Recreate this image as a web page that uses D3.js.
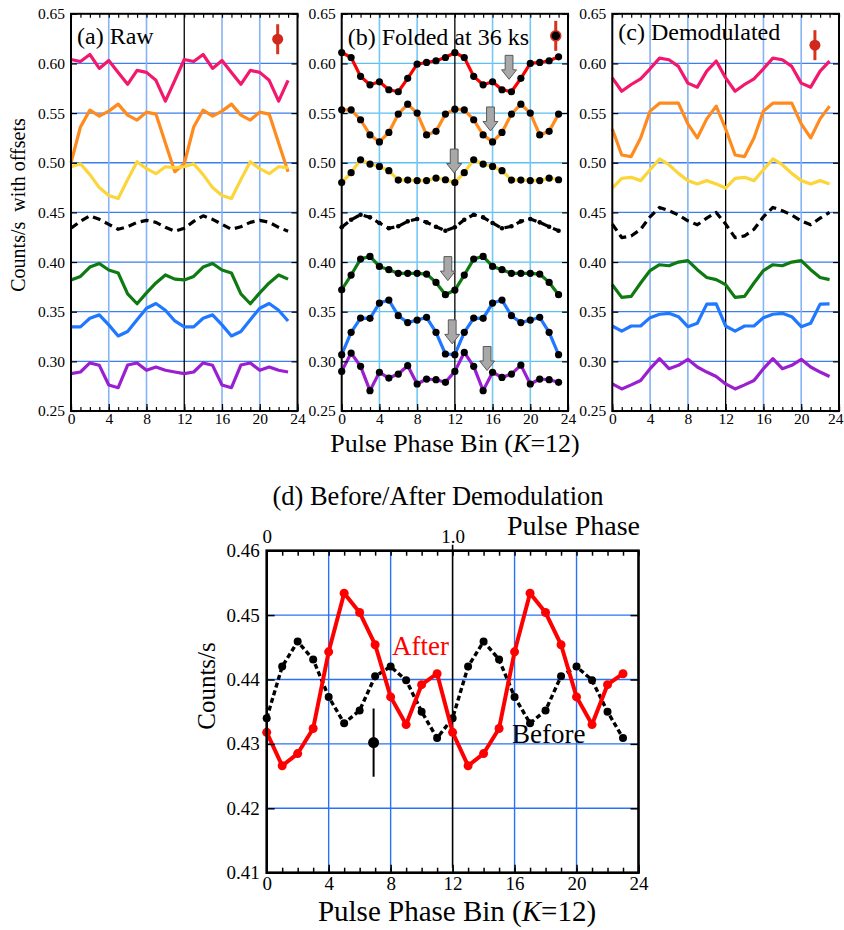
<!DOCTYPE html>
<html><head><meta charset="utf-8">
<script src="https://cdn.jsdelivr.net/npm/d3@7"></script>
<style>body{margin:0;background:#fff} svg{display:block} text{font-family:"Liberation Serif","Times New Roman",serif;fill:#000}</style>
</head><body><svg id="c" width="844" height="930"></svg>
<script>
// ---------------- data ----------------
const bins = d3.range(24);
const xTickVals = [0, 4, 8, 12, 16, 20, 24];
const yTickTop = [0.25, 0.30, 0.35, 0.40, 0.45, 0.50, 0.55, 0.60, 0.65];
const yTickD = [0.41, 0.42, 0.43, 0.44, 0.45, 0.46];
const phaseTickBins = [0, 12];
const phaseTickLabels = ["0", "1.0"];

// (a) Raw
const aPink   = [0.604,0.602,0.609,0.595,0.603,0.591,0.579,0.593,0.591,0.583,0.562,0.583, 0.604,0.602,0.609,0.595,0.603,0.591,0.579,0.593,0.591,0.583,0.562,0.583];
const aOrange = [0.500,0.536,0.553,0.547,0.552,0.559,0.548,0.543,0.551,0.549,0.520,0.491, 0.499,0.536,0.553,0.547,0.552,0.559,0.548,0.543,0.551,0.549,0.520,0.491];
const aYellow = [0.496,0.499,0.488,0.475,0.467,0.464,0.483,0.501,0.494,0.489,0.496,0.495, 0.496,0.499,0.488,0.475,0.467,0.464,0.483,0.501,0.494,0.489,0.496,0.495];
const aBlack  = [0.434,0.441,0.4466,0.443,0.438,0.433,0.4355,0.440,0.442,0.440,0.435,0.431, 0.434,0.441,0.4466,0.443,0.438,0.433,0.4355,0.440,0.442,0.440,0.435,0.431];
const aGreen  = [0.382,0.3855,0.395,0.3986,0.392,0.389,0.368,0.358,0.369,0.379,0.387,0.3828, 0.382,0.3855,0.395,0.3986,0.392,0.389,0.368,0.358,0.369,0.379,0.387,0.3828];
const aBlue   = [0.3347,0.3347,0.3434,0.3468,0.3367,0.3256,0.330,0.342,0.3535,0.3582,0.3515,0.3407, 0.3347,0.3347,0.3434,0.3468,0.3367,0.3256,0.330,0.342,0.3535,0.3582,0.3515,0.3407];
const aPurple = [0.2876,0.2893,0.2984,0.296,0.2762,0.2735,0.2963,0.2984,0.291,0.2943,0.291,0.2893, 0.2876,0.2893,0.2984,0.296,0.2762,0.2735,0.2963,0.2984,0.291,0.2943,0.291,0.2893];

// (b) Folded at 36 ks
const bRed    = [0.611,0.606,0.587,0.5785,0.5815,0.5735,0.5715,0.585,0.5993,0.601,0.6027,0.606, 0.611,0.606,0.587,0.5785,0.5815,0.5735,0.5715,0.585,0.600,0.601,0.6027,0.6067];
const bOrange = [0.5533,0.5533,0.5433,0.528,0.521,0.5305,0.549,0.559,0.550,0.528,0.5316,0.549, 0.554,0.5533,0.5433,0.528,0.521,0.5305,0.549,0.559,0.550,0.528,0.5316,0.549];
const bYellow = [0.480,0.490,0.503,0.4987,0.4963,0.492,0.4826,0.4826,0.482,0.482,0.4846,0.4829, 0.480,0.490,0.503,0.4987,0.4963,0.492,0.4826,0.4826,0.482,0.482,0.4846,0.4829];
const bBlack  = [0.435,0.4426,0.4477,0.445,0.4393,0.434,0.436,0.441,0.4433,0.440,0.4356,0.4315, 0.435,0.4426,0.4477,0.445,0.4393,0.434,0.436,0.441,0.4433,0.440,0.4356,0.4315];
const bGreen  = [0.3721,0.3869,0.403,0.4057,0.3956,0.3923,0.3886,0.3886,0.3886,0.3879,0.3795,0.3671, 0.3718,0.3869,0.403,0.4057,0.3956,0.3923,0.3886,0.3886,0.3886,0.3879,0.3795,0.3671];
const bBlue   = [0.3067,0.3292,0.3436,0.3433,0.3587,0.3617,0.346,0.339,0.3416,0.3443,0.3292,0.3074, 0.3067,0.3292,0.3436,0.3433,0.3587,0.3617,0.346,0.339,0.3416,0.3443,0.3292,0.3067];
const bPurple = [0.2899,0.3084,0.295,0.2705,0.289,0.2832,0.2872,0.2956,0.2772,0.2822,0.2815,0.2789, 0.2899,0.309,0.295,0.2705,0.289,0.2838,0.2872,0.2962,0.2772,0.2822,0.2815,0.2789];
// arrows in (b): bin position and value of arrow tip
const arrowBins = [17.75, 15.78, 11.93, 11.26, 11.72, 15.42];
const arrowVals = [0.584, 0.532, 0.4896, 0.3813, 0.3176, 0.2908];

// (c) Demodulated
const cPink   = [0.5855,0.572,0.5788,0.5845,0.5946,0.6054,0.6037,0.597,0.5802,0.5761,0.5923,0.6024, 0.5855,0.572,0.5788,0.5845,0.5946,0.6054,0.6037,0.597,0.5802,0.5761,0.5923,0.6024];
const cOrange = [0.534,0.5078,0.5062,0.525,0.552,0.560,0.560,0.560,0.5391,0.525,0.5442,0.557, 0.534,0.5078,0.5062,0.525,0.552,0.560,0.560,0.560,0.5391,0.525,0.5442,0.557];
const cYellow = [0.4745,0.4843,0.4853,0.482,0.493,0.5038,0.498,0.4893,0.482,0.4786,0.482,0.4786, 0.4745,0.4843,0.4853,0.482,0.493,0.5038,0.498,0.4893,0.482,0.4786,0.482,0.4786];
const cBlack  = [0.4382,0.4246,0.4263,0.433,0.4456,0.455,0.4517,0.4473,0.4415,0.4375,0.4442,0.450, 0.4382,0.4246,0.4263,0.433,0.4456,0.455,0.4517,0.4473,0.4415,0.4375,0.4442,0.450];
const cGreen  = [0.3772,0.3644,0.3654,0.3789,0.3914,0.3973,0.3963,0.400,0.4014,0.3923,0.3845,0.3823, 0.3772,0.3644,0.3654,0.3789,0.3914,0.3973,0.3963,0.400,0.4014,0.3923,0.3845,0.3823];
const cBlue   = [0.3356,0.3305,0.3356,0.3356,0.344,0.3474,0.3484,0.345,0.3349,0.3383,0.3576,0.3579, 0.3356,0.3305,0.3356,0.3356,0.344,0.3474,0.3484,0.345,0.3349,0.3383,0.3576,0.3579];
const cPurple = [0.2773,0.2722,0.2763,0.2807,0.2926,0.3027,0.2926,0.296,0.302,0.2943,0.2892,0.2848, 0.2773,0.2722,0.2763,0.2807,0.2926,0.3027,0.2926,0.296,0.302,0.2943,0.2892,0.2848];

// (d) Before / After demodulation
const dBefore = [0.434,0.442,0.4459,0.4431,0.4373,0.4332,0.4352,0.4405,0.442,0.4399,0.435,0.4309, 0.434,0.442,0.4459,0.4431,0.4373,0.4332,0.4352,0.4405,0.442,0.4399,0.435,0.4309];
const dAfter  = [0.4318,0.4266,0.4285,0.4324,0.4443,0.4534,0.4504,0.4454,0.4373,0.433,0.4392,0.4409, 0.4318,0.4266,0.4285,0.4324,0.4443,0.4534,0.4504,0.4454,0.4373,0.433,0.4392,0.4409];

// typical error bars: bin, value, half-error
const errBins = [21.9, 22.7, 21.45, 6.9];
const errVals = [0.6244, 0.6278, 0.6184, 0.4302];
const errHalf = [0.0151, 0.0151, 0.0151, 0.0053];

// ---------------- drawing ----------------
const svg = d3.select("#c");
const SERIF = '"Liberation Serif","Times New Roman",serif';
const colOrange = "#ff8a1e", colYellow = "#fcd53a", colGreen = "#0f7a12", colBlue = "#1f78ff", colPurple = "#9a1fd0";

function drawTop(x0, x1, series, o) {
  const x = d3.scaleLinear().domain([0, 24]).range([x0, x1]);
  const y = d3.scaleLinear().domain([0.25, 0.65]).range([411, 13.8]);
  const g = svg.append("g");
  // grid
  g.selectAll(null).data(yTickTop.slice(1, -1)).join("line")
    .attr("x1", x(0)).attr("x2", x(24)).attr("y1", d => y(d)).attr("y2", d => y(d))
    .attr("stroke", o.hGrid).attr("stroke-width", 1.3);
  g.selectAll(null).data(xTickVals.filter(v => v % 12 !== 0)).join("line")
    .attr("x1", d => x(d)).attr("x2", d => x(d)).attr("y1", y(0.25)).attr("y2", y(0.65))
    .attr("stroke", o.vGrid).attr("stroke-width", 1.6);
  g.append("line").attr("x1", x(12)).attr("x2", x(12)).attr("y1", y(0.25)).attr("y2", y(0.65))
    .attr("stroke", "#000").attr("stroke-width", 1.3);
  // series
  const line = d3.line().x((d, i) => x(bins[i])).y(d => y(d));
  series.forEach(s => {
    g.append("path").attr("d", line(s.v)).attr("fill", "none")
      .attr("stroke", s.c).attr("stroke-width", 3.2)
      .attr("stroke-linejoin", "round")
      .attr("stroke-dasharray", s.dash ? "8,5" : null);
    if (o.dots) {
      g.selectAll(null).data(s.v).join("circle")
        .attr("cx", (d, i) => x(bins[i])).attr("cy", d => y(d))
        .attr("r", s.dash ? 2.3 : 3.6).attr("fill", "#000");
    }
  });
  // frame
  g.append("rect").attr("x", x(0)).attr("y", y(0.65)).attr("width", x(24) - x(0)).attr("height", y(0.25) - y(0.65))
    .attr("fill", "none").attr("stroke", "#000").attr("stroke-width", 2);
  // ticks
  const minor = d3.range(25);
  g.append("g").attr("transform", `translate(0,${y(0.25)})`)
    .call(d3.axisBottom(x).tickValues(minor).tickSize(-4).tickFormat(""))
    .call(a => a.select(".domain").remove());
  g.append("g").attr("transform", `translate(0,${y(0.65)})`)
    .call(d3.axisTop(x).tickValues(minor).tickSize(-4).tickFormat(""))
    .call(a => a.select(".domain").remove());
  const bx = g.append("g").attr("transform", `translate(0,${y(0.25)})`)
    .call(d3.axisBottom(x).tickValues(xTickVals).tickSize(-7).tickPadding(3).tickFormat(d3.format("d")));
  bx.select(".domain").remove();
  bx.selectAll("text").attr("font-family", SERIF).attr("font-size", 15.5).attr("dy", "0.66em");
  if (o.lastEnd) {
    bx.selectAll(".tick").filter(d => d === 24).select("text").attr("text-anchor", "end").attr("x", 4);
  }
  const ly = g.append("g").attr("transform", `translate(${x(0)},0)`)
    .call(d3.axisLeft(y).tickValues(yTickTop).tickSize(-6).tickPadding(6).tickFormat(d3.format(".2f")));
  ly.select(".domain").remove();
  ly.selectAll("text").attr("font-family", SERIF).attr("font-size", 15.5);
  g.append("g").attr("transform", `translate(${x(24)},0)`)
    .call(d3.axisRight(y).tickValues(yTickTop).tickSize(-6).tickFormat(""))
    .call(a => a.select(".domain").remove());
  g.selectAll(".tick line").attr("stroke", "#000").attr("stroke-width", 1.2);
  // title
  g.append("text").attr("x", x(0) + 6).attr("y", o.titleY).attr("font-size", 24).text(o.title);
  // error marker
  const e = o.err;
  g.append("line").attr("x1", x(errBins[e])).attr("x2", x(errBins[e]))
    .attr("y1", y(errVals[e] - errHalf[e])).attr("y2", y(errVals[e] + errHalf[e]))
    .attr("stroke", "#d8321e").attr("stroke-width", 3);
  g.append("circle").attr("cx", x(errBins[e])).attr("cy", y(errVals[e])).attr("r", o.errBlack ? 5 : 5.5)
    .attr("fill", o.errBlack ? "#000" : "#d0281c").attr("stroke", o.errBlack ? "#d8321e" : "none").attr("stroke-width", 1.5);
  return { x, y, g };
}

const pa = drawTop(71, 297.5, [
  { v: aPink, c: "#f2186c" }, { v: aOrange, c: colOrange }, { v: aYellow, c: colYellow },
  { v: aBlack, c: "#000", dash: true }, { v: aGreen, c: colGreen }, { v: aBlue, c: colBlue }, { v: aPurple, c: colPurple }
], { hGrid: "#3a7ef0", vGrid: "#86b2f6", title: "(a) Raw", titleY: 44, err: 0 });

const pb = drawTop(341.7, 568, [
  { v: bRed, c: "#ff0000" }, { v: bOrange, c: colOrange }, { v: bYellow, c: colYellow },
  { v: bBlack, c: "#000", dash: true }, { v: bGreen, c: colGreen }, { v: bBlue, c: colBlue }, { v: bPurple, c: colPurple }
], { hGrid: "#5cc0f2", vGrid: "#74c8f4", title: "(b) Folded at 36 ks", titleY: 45, err: 1, errBlack: true, dots: true });

// arrows in (b)
pb.g.selectAll(null).data(arrowBins).join("path")
  .attr("d", (d, i) => {
    const cx = pb.x(d), ty = pb.y(arrowVals[i]);
    return `M${cx - 3.9},${ty - 24} L${cx + 3.9},${ty - 24} L${cx + 3.9},${ty - 9.5} L${cx + 7.5},${ty - 9.5} L${cx},${ty} L${cx - 7.5},${ty - 9.5} L${cx - 3.9},${ty - 9.5} Z`;
  })
  .attr("fill", "#a8a8a8").attr("stroke", "#5a5a5a").attr("stroke-width", 1);

const pc = drawTop(612.3, 839, [
  { v: cPink, c: "#f2186c" }, { v: cOrange, c: colOrange }, { v: cYellow, c: colYellow },
  { v: cBlack, c: "#000", dash: true }, { v: cGreen, c: colGreen }, { v: cBlue, c: colBlue }, { v: cPurple, c: colPurple }
], { hGrid: "#3a7ef0", vGrid: "#86b2f6", title: "(c) Demodulated", titleY: 40, err: 2, lastEnd: true });

// top-row axis labels
svg.append("text").attr("transform", "translate(25,205) rotate(-90)").attr("text-anchor", "middle")
  .attr("font-size", 20).text("Counts/s\u00a0 with offsets");
svg.append("text").attr("x", 455).attr("y", 452).attr("text-anchor", "middle").attr("font-size", 26)
  .html('Pulse Phase Bin (<tspan font-style="italic">K</tspan>=12)');

// ---------------- panel (d) ----------------
const xd = d3.scaleLinear().domain([0, 24]).range([266.7, 638.5]);
const yd = d3.scaleLinear().domain([0.41, 0.46]).range([872.7, 550.7]);
const gd = svg.append("g");
gd.selectAll(null).data(yTickD.slice(1, -1)).join("line")
  .attr("x1", xd(0)).attr("x2", xd(24)).attr("y1", d => yd(d)).attr("y2", d => yd(d))
  .attr("stroke", "#2a72f5").attr("stroke-width", 1.4);
gd.selectAll(null).data(xTickVals.filter(v => v % 12 !== 0)).join("line")
  .attr("x1", d => xd(d)).attr("x2", d => xd(d)).attr("y1", yd(0.41)).attr("y2", yd(0.46))
  .attr("stroke", "#2a72f5").attr("stroke-width", 1.4);
gd.append("line").attr("x1", xd(12)).attr("x2", xd(12)).attr("y1", yd(0.46) - 6).attr("y2", yd(0.41) - 5)
  .attr("stroke", "#000").attr("stroke-width", 1.6);

const lineD = d3.line().x((d, i) => xd(bins[i])).y(d => yd(d));
gd.append("path").attr("d", lineD(dBefore)).attr("fill", "none").attr("stroke", "#000")
  .attr("stroke-width", 3.4).attr("stroke-dasharray", "5,3");
gd.selectAll(null).data(dBefore).join("circle").attr("cx", (d, i) => xd(bins[i])).attr("cy", d => yd(d))
  .attr("r", 4).attr("fill", "#000");
gd.append("path").attr("d", lineD(dAfter)).attr("fill", "none").attr("stroke", "#ff0000")
  .attr("stroke-width", 4).attr("stroke-linejoin", "round");
gd.selectAll(null).data(dAfter).join("circle").attr("cx", (d, i) => xd(bins[i])).attr("cy", d => yd(d))
  .attr("r", 4.5).attr("fill", "#ff0000");

// error bar (d)
gd.append("line").attr("x1", xd(errBins[3])).attr("x2", xd(errBins[3]))
  .attr("y1", yd(errVals[3] - errHalf[3])).attr("y2", yd(errVals[3] + errHalf[3]))
  .attr("stroke", "#000").attr("stroke-width", 2);
gd.append("circle").attr("cx", xd(errBins[3])).attr("cy", yd(errVals[3])).attr("r", 5.5).attr("fill", "#000");

gd.append("rect").attr("x", xd(0)).attr("y", yd(0.46)).attr("width", xd(24) - xd(0)).attr("height", yd(0.41) - yd(0.46))
  .attr("fill", "none").attr("stroke", "#000").attr("stroke-width", 2.6);

const minorD = d3.range(25);
gd.append("g").attr("transform", `translate(0,${yd(0.41)})`)
  .call(d3.axisBottom(xd).tickValues(minorD).tickSize(-5).tickFormat(""))
  .call(a => a.select(".domain").remove());
gd.append("g").attr("transform", `translate(0,${yd(0.46)})`)
  .call(d3.axisTop(xd).tickValues(minorD).tickSize(-5).tickFormat(""))
  .call(a => a.select(".domain").remove());
const bxd = gd.append("g").attr("transform", `translate(0,${yd(0.41)})`)
  .call(d3.axisBottom(xd).tickValues(xTickVals).tickSize(-8).tickPadding(4).tickFormat(d3.format("d")));
bxd.select(".domain").remove();
bxd.selectAll("text").attr("font-family", SERIF).attr("font-size", 19).attr("dy", "0.68em");
const txd = gd.append("g").attr("transform", `translate(0,${yd(0.46)})`)
  .call(d3.axisTop(xd).tickValues(phaseTickBins).tickSize(0).tickPadding(8).tickFormat((d, i) => phaseTickLabels[i]));
txd.select(".domain").remove();
txd.selectAll("text").attr("font-family", SERIF).attr("font-size", 19);
const lyd = gd.append("g").attr("transform", `translate(${xd(0)},0)`)
  .call(d3.axisLeft(yd).tickValues(yTickD).tickSize(-8).tickPadding(7).tickFormat(d3.format(".2f")));
lyd.select(".domain").remove();
lyd.selectAll("text").attr("font-family", SERIF).attr("font-size", 19);
gd.append("g").attr("transform", `translate(${xd(24)},0)`)
  .call(d3.axisRight(yd).tickValues(yTickD).tickSize(-8).tickFormat(""))
  .call(a => a.select(".domain").remove());
gd.selectAll(".tick line").attr("stroke", "#000").attr("stroke-width", 1.5);

svg.append("text").attr("x", 438).attr("y", 505).attr("text-anchor", "middle").attr("font-size", 26.5)
  .text("(d) Before/After Demodulation");
svg.append("text").attr("x", 640).attr("y", 535).attr("text-anchor", "end").attr("font-size", 28)
  .text("Pulse Phase");
svg.append("text").attr("transform", "translate(215,686) rotate(-90)").attr("text-anchor", "middle")
  .attr("font-size", 25).text("Counts/s");
svg.append("text").attr("x", 457).attr("y", 921).attr("text-anchor", "middle").attr("font-size", 29)
  .html('Pulse Phase Bin (<tspan font-style="italic">K</tspan>=12)');
svg.append("text").attr("x", 392).attr("y", 655).attr("font-size", 27).attr("fill", "#ff0000").style("fill", "#ff0000")
  .text("After");
svg.append("text").attr("x", 512).attr("y", 743).attr("font-size", 27).text("Before");
</script></body></html>
